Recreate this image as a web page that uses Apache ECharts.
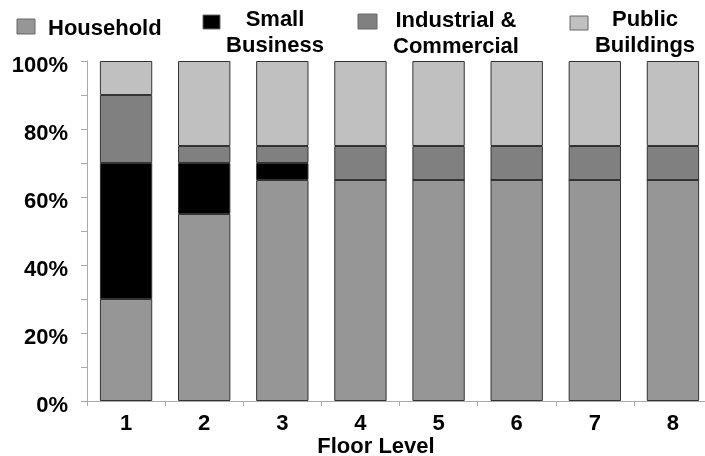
<!DOCTYPE html>
<html><head><meta charset="utf-8">
<script src="https://cdn.jsdelivr.net/npm/echarts@6/dist/echarts.min.js"></script>
<style>html,body{margin:0;padding:0;background:#fff}#c{width:705px;height:456px}</style>
</head><body><div id="c"></div>
<script>
const categories = ['1','2','3','4','5','6','7','8'];
const seriesNames = ['Household', 'Small\nBusiness', 'Industrial &\nCommercial', 'Public\nBuildings'];
const household = [30, 55, 65, 65, 65, 65, 65, 65];
const smallBusiness = [40, 15, 5, 0, 0, 0, 0, 0];
const industrial = [20, 5, 5, 10, 10, 10, 10, 10];
const publicBuildings = [10, 25, 25, 25, 25, 25, 25, 25];
const yTickLabels = [0, 20, 40, 60, 80, 100];

const values = [household, smallBusiness, industrial, publicBuildings];
const colors = ['#969696', '#000000', '#808080', '#c0c0c0'];
const FONT = "'Liberation Sans',Arial,sans-serif";

// legend layout: square position/size, text anchor
const legendPos = [
  {sx: 17, sy: 19, w: 18, h: 15, tx: 48, ty: 16, align: 'left'},
  {sx: 203, sy: 15, w: 17, h: 14, tx: 275, ty: 7, align: 'center'},
  {sx: 358, sy: 14, w: 19, h: 15, tx: 456, ty: 8, align: 'center'},
  {sx: 570, sy: 16, w: 18, h: 14, tx: 645, ty: 7, align: 'center'}
];

const graphic = [];
seriesNames.forEach((n, i) => {
  const p = legendPos[i];
  graphic.push({type: 'rect', shape: {x: p.sx, y: p.sy, width: p.w, height: p.h},
    style: {fill: colors[i], stroke: '#666', lineWidth: 1}});
  graphic.push({type: 'text', x: p.tx, y: p.ty,
    style: {text: n, font: 'bold 22px ' + FONT, fill: '#000', align: p.align, verticalAlign: 'top', lineHeight: 26}});
});

const chart = echarts.init(document.getElementById('c'), null, {renderer: 'canvas'});
chart.setOption({
  animation: false,
  backgroundColor: '#fff',
  grid: {left: 87, top: 61, width: 625, height: 340, containLabel: false, outerBoundsMode: 'none'},
  xAxis: {
    type: 'category', data: categories,
    name: 'Floor Level', nameLocation: 'middle', nameGap: 35, nameMoveOverlap: false,
    nameTextStyle: {fontFamily: FONT, fontWeight: 'bold', fontSize: 22, color: '#000', padding: [0, 47, 0, 0]},
    axisLine: {lineStyle: {color: '#aaa'}},
    axisTick: {show: true, length: 5, lineStyle: {color: '#aaa'}},
    axisLabel: {fontFamily: FONT, fontWeight: 'bold', fontSize: 22, color: '#000', margin: 12}
  },
  yAxis: {
    type: 'value', min: 0, max: 100, interval: 10,
    axisLine: {show: true, lineStyle: {color: '#aaa'}},
    axisTick: {show: true, length: 6, lineStyle: {color: '#aaa'}},
    splitLine: {show: false},
    axisLabel: {fontFamily: FONT, fontWeight: 'bold', fontSize: 22, color: '#000', margin: 19,
      formatter: v => yTickLabels.includes(v) ? '{a|' + v + '%}' : '',
      rich: {a: {fontFamily: FONT, fontWeight: 'bold', fontSize: 22, color: '#000', padding: [10, 0, 0, 0]}}}
  },
  graphic: graphic,
  series: values.map((d, i) => ({
    name: seriesNames[i], type: 'bar', stack: 'total', data: d,
    barCategoryGap: '33%',
    itemStyle: {color: colors[i], borderColor: '#333', borderWidth: 1}
  }))
});
</script></body></html>
